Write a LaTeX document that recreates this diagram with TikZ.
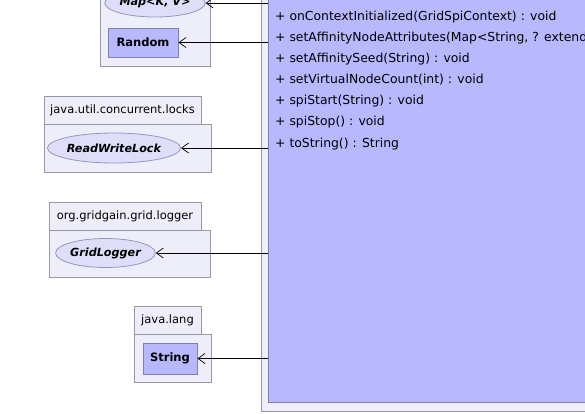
\documentclass[tikz,border=0pt]{standalone}
\usepackage{fontspec}
\setmainfont{DejaVu Sans}
\usetikzlibrary{arrows.meta,shapes.geometric}
\definecolor{pkgfill}{RGB}{238,238,250}
\definecolor{pkgline}{RGB}{152,152,162}
\definecolor{clsfill}{RGB}{184,184,255}
\definecolor{clsline}{RGB}{128,128,172}
\definecolor{iffill}{RGB}{222,222,248}
\definecolor{ifline}{RGB}{150,150,192}
\begin{document}
\begin{tikzpicture}[x=1pt,y=-1pt,
  pkg/.style={draw=pkgline,fill=pkgfill,line width=0.8pt},
  pkglabel/.style={inner sep=0pt,font=\fontsize{11.5}{13}\selectfont},
  clsbox/.style={draw=clsline,fill=clsfill,line width=0.8pt,inner sep=0pt,
    font=\bfseries\fontsize{11.5}{13}\selectfont},
  iface/.style={ellipse,draw=ifline,fill=iffill,line width=0.8pt,inner sep=0pt,
    font=\bfseries\itshape\fontsize{11.2}{13}\selectfont},
  member/.style={anchor=base west,inner sep=0pt,font=\fontsize{12.4}{14}\selectfont},
  dep/.style={-{Straight Barb[length=7pt,width=10pt]},line width=0.7pt}
]
\useasboundingbox (0,0) rectangle (585,413);
\clip (0,0) rectangle (585,413);

% package holding the class
\draw[pkg] (261,-30) rectangle (600,411);
\node[clsbox,anchor=south west,minimum width=340,minimum height=440] (cls) at (268,403) {};

% operations of the class
\node[member] (m1) at (275,20.5) {+ onContextInitialized(GridSpiContext) : void};
\node[member] (m2) at (275,41.5) {+ setAffinityNodeAttributes(Map<String, ? extends Serializable>) : void};
\node[member] (m3) at (275,62.5) {+ setAffinitySeed(String) : void};
\node[member] (m4) at (275,83.5) {+ setVirtualNodeCount(int) : void};
\node[member] (m5) at (275,104.5) {+ spiStart(String) : void};
\node[member] (m6) at (275,125.5) {+ spiStop() : void};
\node[member] (m7) at (275,147.5) {+ toString() : String};

% java.util
\draw[pkg] (100,-30) rectangle (210,66);
\node[iface,minimum width=94,minimum height=28] (map) at (155,3) {Map<K, V>};
\node[clsbox,minimum width=70,minimum height=29] (rnd) at (143,42.5) {Random};

% java.util.concurrent.locks
\draw[pkg] (44,96) rectangle (201,124);
\node[pkglabel] (lbllocks) at (122.5,110.5) {java.util.concurrent.locks};
\draw[pkg] (44,124) rectangle (211,172);
\node[iface,minimum width=126,minimum height=30] (rwl) at (114,148) {ReadWriteLock};

% org.gridgain.grid.logger
\draw[pkg] (49,202) rectangle (201,230);
\node[pkglabel] (lbllog) at (125,216.5) {org.gridgain.grid.logger};
\draw[pkg] (49,230) rectangle (210,277);
\node[iface,minimum width=97,minimum height=29] (log) at (105.5,253) {GridLogger};

% java.lang
\draw[pkg] (134,306) rectangle (201,334);
\node[pkglabel] (lbllang) at (167.5,320.5) {java.lang};
\draw[pkg] (134,334) rectangle (211,382);
\node[clsbox,minimum width=54,minimum height=31] (str) at (170,358.5) {String};

% dependencies
\draw[dep] (cls.west |- map) -- (map.east);
\draw[dep] (cls.west |- rnd) -- (rnd.east);
\draw[dep] (cls.west |- rwl) -- (rwl.east);
\draw[dep] (cls.west |- log) -- (log.east);
\draw[dep] (cls.west |- str) -- (str.east);
\end{tikzpicture}
\end{document}
